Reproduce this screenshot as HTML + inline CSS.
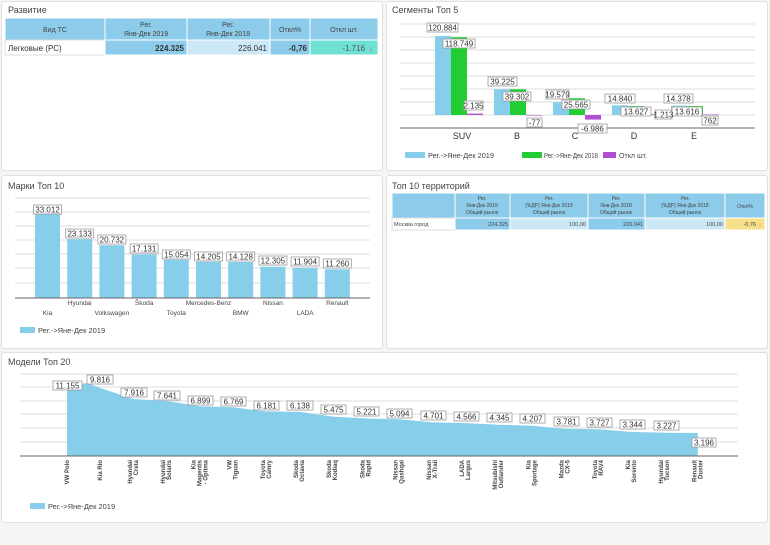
<!DOCTYPE html>
<html><head><meta charset="utf-8"><style>
html,body{margin:0;padding:0;background:#f5f5f5;}
svg{display:block;font-family:"Liberation Sans",sans-serif;}
</style></head><body>
<svg width="770" height="545" viewBox="0 0 770 545" xmlns="http://www.w3.org/2000/svg">
<rect x="0" y="0" width="770" height="545" fill="#f5f5f5"/>
<g fill="#fff" stroke="#e0e0e0">
<rect x="1.5" y="1.5" width="381" height="169" rx="3"/>
<rect x="386.5" y="1.5" width="381" height="169" rx="3"/>
<rect x="1.5" y="175.5" width="381" height="173" rx="3"/>
<rect x="386.5" y="175.5" width="381" height="173" rx="3"/>
<rect x="1.5" y="352.5" width="766" height="170" rx="3"/>
</g>
<g font-size="9" fill="#444">
<text x="8" y="13">Развитие</text>
<text x="392" y="13">Сегменты Топ 5</text>
<text x="8" y="189">Марки Топ 10</text>
<text x="392" y="189">Топ 10 территорий</text>
<text x="8" y="365">Модели Топ 20</text>
</g>

<g stroke="#fff" stroke-width="1">
<rect x="5" y="18" width="373" height="22" fill="#8ccbea"/>
<rect x="5" y="40" width="100" height="15" fill="#fff" stroke="#ddd"/>
<rect x="105" y="40" width="82" height="15" fill="#8ccbea"/>
<rect x="187" y="40" width="83" height="15" fill="#cce8f6"/>
<rect x="270" y="40" width="40" height="15" fill="#8ccbea"/>
<rect x="310" y="40" width="68" height="15" fill="#6fe0d4"/>
<line x1="105" y1="18" x2="105" y2="40"/><line x1="187" y1="18" x2="187" y2="40"/><line x1="270" y1="18" x2="270" y2="40"/><line x1="310" y1="18" x2="310" y2="40"/>
</g>
<g font-size="7" fill="#444" text-anchor="middle">
<text x="55" y="32">Вид ТС</text>
<text x="146" y="27">Рег.</text><text x="146" y="36">Янв-Дек 2019</text>
<text x="228" y="27">Рег.</text><text x="228" y="36">Янв-Дек 2018</text>
<text x="290" y="32">Откл%</text>
<text x="344" y="32">Откл шт.</text>
</g>
<g font-size="8" fill="#333">
<text x="8" y="51">Легковые (РС)</text>
<text x="184" y="51" text-anchor="end" font-weight="bold">224.325</text>
<text x="267" y="51" text-anchor="end">226.041</text>
<text x="307" y="51" text-anchor="end" font-weight="bold">-0,76</text>
<text x="365" y="51" text-anchor="end" fill="#555">-1.716</text>
<text x="371" y="51" text-anchor="middle" fill="#e05050">&#x2193;</text>
</g>

<g stroke="#fff">
<rect x="392" y="193" width="373" height="25" fill="#8ccbea"/>
<rect x="392" y="218" width="63" height="12" fill="#fff" stroke="#ddd"/>
<rect x="455" y="218" width="55" height="12" fill="#8ccbea"/>
<rect x="510" y="218" width="78" height="12" fill="#cce8f6"/>
<rect x="588" y="218" width="57" height="12" fill="#8ccbea"/>
<rect x="645" y="218" width="80" height="12" fill="#cce8f6"/>
<rect x="725" y="218" width="40" height="12" fill="#f8e08a"/>
<line x1="455" y1="193" x2="455" y2="218"/><line x1="510" y1="193" x2="510" y2="218"/><line x1="588" y1="193" x2="588" y2="218"/><line x1="645" y1="193" x2="645" y2="218"/><line x1="725" y1="193" x2="725" y2="218"/>
</g>
<g font-size="5" fill="#444" text-anchor="middle">
<text x="482" y="200">Рег.</text><text x="482" y="207">Янв-Дек 2019</text><text x="482" y="214">Общий рынок</text>
<text x="549" y="200">Рег.</text><text x="549" y="207">(%ДР) Янв-Дек 2019</text><text x="549" y="214">Общий рынок</text>
<text x="616" y="200">Рег.</text><text x="616" y="207">Янв-Дек 2018</text><text x="616" y="214">Общий рынок</text>
<text x="685" y="200">Рег.</text><text x="685" y="207">(%ДР) Янв-Дек 2018</text><text x="685" y="214">Общий рынок</text>
<text x="745" y="208">Откл%</text>
</g>
<g font-size="5.5" fill="#444">
<text x="394" y="226">Москва город</text>
<text x="508" y="226" text-anchor="end">224.325</text>
<text x="586" y="226" text-anchor="end">100,00</text>
<text x="643" y="226" text-anchor="end">226.041</text>
<text x="723" y="226" text-anchor="end">100,00</text>
<text x="756" y="226" text-anchor="end">-0,76</text>
<text x="760" y="226" text-anchor="middle" fill="#e05050">&#x2193;</text>
</g>

<g stroke="#ddd">
<line x1="400" y1="24" x2="755" y2="24"/><line x1="400" y1="37" x2="755" y2="37"/><line x1="400" y1="50" x2="755" y2="50"/><line x1="400" y1="63" x2="755" y2="63"/><line x1="400" y1="76" x2="755" y2="76"/><line x1="400" y1="89" x2="755" y2="89"/><line x1="400" y1="102" x2="755" y2="102"/><line x1="400" y1="115" x2="755" y2="115"/>
</g>
<g>
<rect x="435" y="36" width="16" height="79" fill="#87ceeb"/><rect x="451" y="37.3" width="16" height="77.7" fill="#22cc33"/><rect x="467" y="113.6" width="16" height="1.4" fill="#b050d0"/>
<rect x="494" y="89.3" width="16" height="25.7" fill="#87ceeb"/><rect x="510" y="89.3" width="16" height="25.7" fill="#22cc33"/><rect x="526" y="115" width="16" height="0.6" fill="#b050d0"/>
<rect x="553" y="102.2" width="16" height="12.8" fill="#87ceeb"/><rect x="569" y="98.3" width="16" height="16.7" fill="#22cc33"/><rect x="585" y="115" width="16" height="4.6" fill="#b050d0"/>
<rect x="612" y="105.3" width="16" height="9.7" fill="#87ceeb"/><rect x="628" y="106.1" width="16" height="8.9" fill="#22cc33"/><rect x="644" y="114.2" width="16" height="0.8" fill="#b050d0"/>
<rect x="671" y="105.6" width="16" height="9.4" fill="#87ceeb"/><rect x="687" y="106.1" width="16" height="8.9" fill="#22cc33"/><rect x="703" y="114.5" width="16" height="0.5" fill="#b050d0"/>
</g>
<line x1="400" y1="128" x2="755" y2="128" stroke="#666"/>
<g fill="#fff" stroke="#999" stroke-width="0.8">
<rect x="427" y="23" width="31" height="9"/><rect x="443" y="39" width="32" height="9"/><rect x="464" y="101" width="19" height="9"/>
<rect x="488" y="77" width="29" height="9"/><rect x="503" y="92" width="28" height="9"/><rect x="527" y="118" width="15" height="9"/>
<rect x="546" y="90" width="23" height="9"/><rect x="562" y="100" width="28" height="9"/><rect x="578" y="124" width="29" height="9"/>
<rect x="605" y="94" width="30" height="9"/><rect x="621" y="107" width="30" height="9"/><rect x="655" y="110" width="17" height="9"/>
<rect x="664" y="94" width="29" height="9"/><rect x="672" y="107" width="30" height="9"/><rect x="702" y="116" width="16" height="9"/>
</g>
<g font-size="8" fill="#333" text-anchor="middle">
<text x="442.5" y="30.5">120.884</text><text x="459" y="46.5">118.749</text><text x="473.5" y="108.5">2.135</text>
<text x="502.5" y="84.5">39.225</text><text x="517" y="99.5">39.302</text><text x="534.5" y="125.5">-77</text>
<text x="557.5" y="97.5">19.579</text><text x="576" y="107.5">25.565</text><text x="592.5" y="131.5">-6.986</text>
<text x="620" y="101.5">14.840</text><text x="636" y="114.5">13.627</text><text x="663.5" y="117.5">1.213</text>
<text x="678.5" y="101.5">14.378</text><text x="687" y="114.5">13.616</text><text x="710" y="123.5">762</text>
</g>
<g font-size="9" fill="#333" text-anchor="middle">
<text x="462" y="139">SUV</text><text x="517" y="139">B</text><text x="575" y="139">C</text><text x="634" y="139">D</text><text x="694" y="139">E</text>
</g>
<g font-size="7" fill="#444">
<rect x="405" y="152" width="20" height="6" fill="#87ceeb"/><text x="428" y="158" textLength="66" lengthAdjust="spacingAndGlyphs">Рег.-&gt;Яне-Дек 2019</text>
<rect x="522" y="152" width="20" height="6" fill="#22cc33"/><text x="544" y="158" textLength="54" lengthAdjust="spacingAndGlyphs">Рег.-&gt;Яне-Дек 2018</text>
<rect x="603" y="152" width="13" height="6" fill="#b050d0"/><text x="619" y="158" textLength="28" lengthAdjust="spacingAndGlyphs">Откл шт.</text>
</g>

<g stroke="#ddd">
<line x1="15" y1="198" x2="370" y2="198"/><line x1="15" y1="212" x2="370" y2="212"/><line x1="15" y1="226" x2="370" y2="226"/><line x1="15" y1="240" x2="370" y2="240"/><line x1="15" y1="254" x2="370" y2="254"/><line x1="15" y1="268" x2="370" y2="268"/><line x1="15" y1="283" x2="370" y2="283"/>
</g>
<g fill="#87ceeb">
<rect x="35" y="214" width="25" height="84"/>
<rect x="67.2" y="239.1" width="25" height="58.9"/>
<rect x="99.4" y="245.2" width="25" height="52.8"/>
<rect x="131.6" y="254.4" width="25" height="43.6"/>
<rect x="163.8" y="259.7" width="25" height="38.3"/>
<rect x="196" y="261.8" width="25" height="36.2"/>
<rect x="228.2" y="262" width="25" height="36"/>
<rect x="260.4" y="266.7" width="25" height="31.3"/>
<rect x="292.6" y="267.7" width="25" height="30.3"/>
<rect x="324.8" y="269.3" width="25" height="28.7"/>
</g>
<line x1="15" y1="298" x2="370" y2="298" stroke="#666"/>
<g fill="#fff" stroke="#999" stroke-width="0.8">
<rect x="33.5" y="205" width="28" height="9"/><rect x="65.7" y="229" width="28" height="9"/><rect x="97.9" y="235" width="28" height="9"/><rect x="130.1" y="244" width="28" height="9"/><rect x="162.3" y="250" width="28" height="9"/><rect x="194.5" y="252" width="28" height="9"/><rect x="226.7" y="252" width="28" height="9"/><rect x="258.9" y="256" width="28" height="9"/><rect x="291.1" y="257" width="28" height="9"/><rect x="323.3" y="259" width="28" height="9"/>
</g>
<g font-size="8" fill="#333" text-anchor="middle">
<text x="47.5" y="212.5">33.012</text><text x="79.7" y="236.5">23.133</text><text x="111.9" y="242.5">20.732</text><text x="144.1" y="251.5">17.131</text><text x="176.3" y="257.5">15.054</text><text x="208.5" y="259.5">14.205</text><text x="240.7" y="259.5">14.128</text><text x="272.9" y="263.5">12.305</text><text x="305.1" y="264.5">11.904</text><text x="337.3" y="266.5">11.260</text>
</g>
<g font-size="6.5" fill="#444" text-anchor="middle">
<text x="47.5" y="315">Kia</text><text x="79.7" y="305">Hyundai</text><text x="111.9" y="315">Volkswagen</text><text x="144.1" y="305">Škoda</text><text x="176.3" y="315">Toyota</text><text x="208.5" y="305">Mercedes-Benz</text><text x="240.7" y="315">BMW</text><text x="272.9" y="305">Nissan</text><text x="305.1" y="315">LADA</text><text x="337.3" y="305">Renault</text>
</g>
<rect x="20" y="327" width="15" height="6" fill="#87ceeb"/>
<text x="38" y="333" font-size="7.5" fill="#444">Рег.-&gt;Яне-Дек 2019</text>

<g stroke="#ddd">
<line x1="20" y1="374" x2="738" y2="374"/><line x1="20" y1="387" x2="738" y2="387"/><line x1="20" y1="401" x2="738" y2="401"/><line x1="20" y1="414" x2="738" y2="414"/><line x1="20" y1="428" x2="738" y2="428"/><line x1="20" y1="442" x2="738" y2="442"/>
</g>
<polygon fill="#87ceeb" points="67,456 67,386 87,383 100.2,388 133.4,399 166.6,401 199.8,406.3 233,407.3 266.2,411.5 299.4,411.8 332.6,416.6 365.8,418.4 399,419.3 432.2,422.2 465.4,423.1 498.6,424.7 531.8,425.7 565,428.8 598.2,429.2 631.4,431.9 664.6,432.8 697.8,433 697.8,456"/>
<line x1="20" y1="456" x2="738" y2="456" stroke="#666"/>
<g fill="#fff" stroke="#999" stroke-width="0.8">
<rect x="53" y="381" width="29" height="9"/><rect x="87" y="375" width="26" height="9"/><rect x="121" y="388" width="26" height="9"/><rect x="154" y="391" width="26" height="9"/><rect x="188" y="396" width="25" height="9"/><rect x="221" y="397" width="25" height="9"/><rect x="254" y="401" width="25" height="9"/><rect x="287" y="401" width="26" height="9"/><rect x="321" y="405" width="25" height="9"/><rect x="354" y="407" width="25" height="9"/><rect x="387" y="409" width="25" height="9"/><rect x="421" y="411" width="25" height="9"/><rect x="454" y="412" width="25" height="9"/><rect x="487" y="413" width="25" height="9"/><rect x="520" y="414" width="25" height="9"/><rect x="554" y="417" width="25" height="9"/><rect x="587" y="418" width="25" height="9"/><rect x="620" y="420" width="25" height="9"/><rect x="654" y="421" width="25" height="9"/><rect x="692" y="438" width="24" height="9"/>
</g>
<g font-size="8" fill="#333" text-anchor="middle">
<text x="67.5" y="388.5">11.155</text><text x="100" y="382.5">9.816</text><text x="134" y="395.5">7.916</text><text x="167" y="398.5">7.641</text><text x="200.5" y="403.5">6.899</text><text x="233.5" y="404.5">6.769</text><text x="266.5" y="408.5">6.181</text><text x="300" y="408.5">6.138</text><text x="333.5" y="412.5">5.475</text><text x="366.5" y="414.5">5.221</text><text x="399.5" y="416.5">5.094</text><text x="433.5" y="418.5">4.701</text><text x="466.5" y="419.5">4.566</text><text x="499.5" y="420.5">4.345</text><text x="532.5" y="421.5">4.207</text><text x="566.5" y="424.5">3.781</text><text x="599.5" y="425.5">3.727</text><text x="632.5" y="427.5">3.344</text><text x="666.5" y="428.5">3.227</text><text x="704" y="445.5">3.196</text>
</g>
<g font-size="6" fill="#444" text-anchor="end" font-weight="bold">
<text transform="translate(69,460) rotate(-90)">VW Polo</text>
<text transform="translate(102.2,460) rotate(-90)">Kia Rio</text>
<text transform="translate(132,460) rotate(-90)">Hyundai</text><text transform="translate(138,460) rotate(-90)">Creta</text>
<text transform="translate(165.2,460) rotate(-90)">Hyundai</text><text transform="translate(171.2,460) rotate(-90)">Solaris</text>
<text transform="translate(195.3,460) rotate(-90)">Kia</text><text transform="translate(201.3,460) rotate(-90)">Magentis</text><text transform="translate(207.3,460) rotate(-90)">- Optima</text>
<text transform="translate(231.6,460) rotate(-90)">VW</text><text transform="translate(237.6,460) rotate(-90)">Tiguan</text>
<text transform="translate(264.8,460) rotate(-90)">Toyota</text><text transform="translate(270.8,460) rotate(-90)">Camry</text>
<text transform="translate(298,460) rotate(-90)">Skoda</text><text transform="translate(304,460) rotate(-90)">Octavia</text>
<text transform="translate(331.2,460) rotate(-90)">Skoda</text><text transform="translate(337.2,460) rotate(-90)">Kodiaq</text>
<text transform="translate(364.4,460) rotate(-90)">Skoda</text><text transform="translate(370.4,460) rotate(-90)">Rapid</text>
<text transform="translate(397.6,460) rotate(-90)">Nissan</text><text transform="translate(403.6,460) rotate(-90)">Qashqai</text>
<text transform="translate(430.8,460) rotate(-90)">Nissan</text><text transform="translate(436.8,460) rotate(-90)">X-Trail</text>
<text transform="translate(464,460) rotate(-90)">LADA</text><text transform="translate(470,460) rotate(-90)">Largus</text>
<text transform="translate(497.2,460) rotate(-90)">Mitsubishi</text><text transform="translate(503.2,460) rotate(-90)">Outlander</text>
<text transform="translate(530.4,460) rotate(-90)">Kia</text><text transform="translate(536.4,460) rotate(-90)">Sportage</text>
<text transform="translate(563.6,460) rotate(-90)">Mazda</text><text transform="translate(569.6,460) rotate(-90)">CX-5</text>
<text transform="translate(596.8,460) rotate(-90)">Toyota</text><text transform="translate(602.8,460) rotate(-90)">RAV4</text>
<text transform="translate(630,460) rotate(-90)">Kia</text><text transform="translate(636,460) rotate(-90)">Sorento</text>
<text transform="translate(663.2,460) rotate(-90)">Hyundai</text><text transform="translate(669.2,460) rotate(-90)">Tucson</text>
<text transform="translate(696.4,460) rotate(-90)">Renault</text><text transform="translate(702.4,460) rotate(-90)">Duster</text>
</g>
<rect x="30" y="503" width="15" height="6" fill="#87ceeb"/>
<text x="48" y="509" font-size="7.5" fill="#444">Рег.-&gt;Яне-Дек 2019</text>
</svg>
</body></html>
